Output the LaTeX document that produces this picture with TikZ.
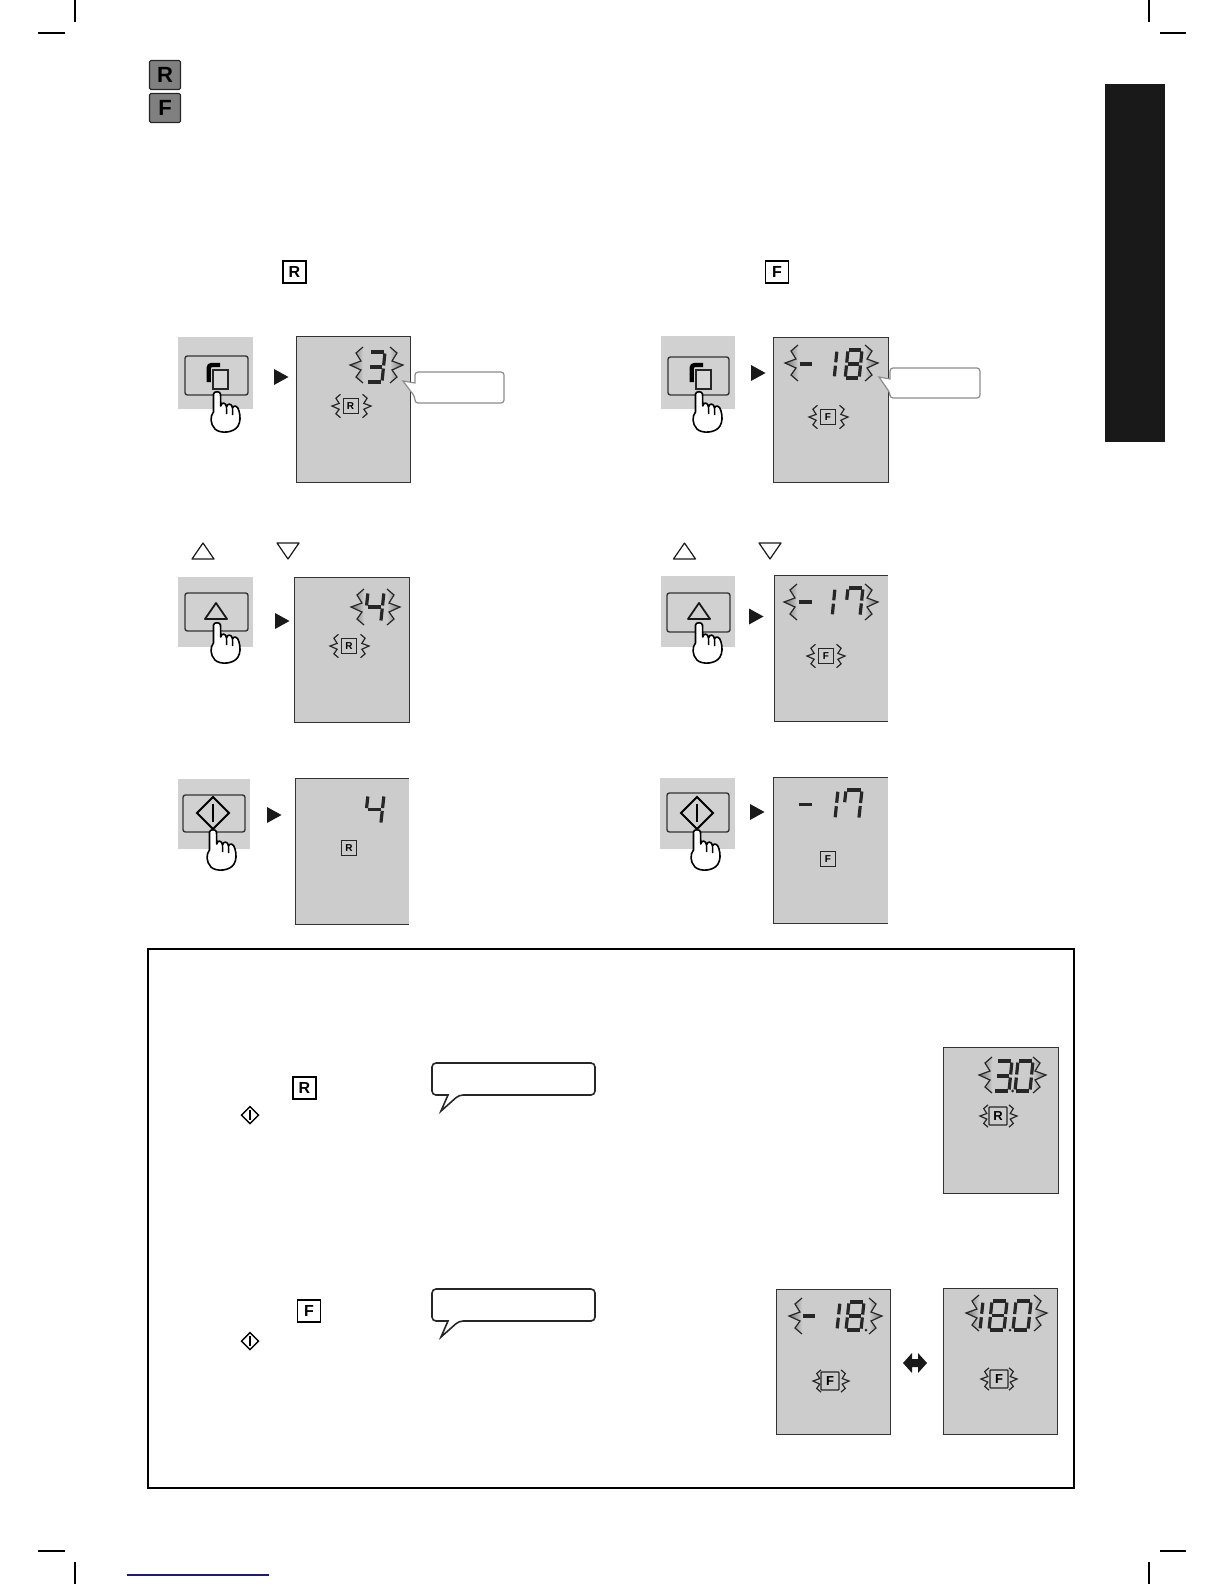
\documentclass[tikz,border=0pt]{standalone}
\usepackage{fontspec}
\setmainfont{Liberation Sans}
\usepackage{xcolor}
\usetikzlibrary{calc}

\definecolor{lcdgray}{gray}{0.80}
\definecolor{padgray}{gray}{0.82}
\definecolor{keygray}{gray}{0.50}
\definecolor{linkblue}{rgb}{0.10,0.10,0.50}

\tikzset{
	keytop/.style={draw=black!85,fill=keygray,line width=.6pt,rounded corners=.7pt,minimum width=15.5pt,minimum height=14.5pt,inner sep=0pt,font=\bfseries\fontsize{11}{11}\selectfont},
	keymid/.style={draw=black,line width=.75pt,minimum width=11.5pt,minimum height=11pt,inner sep=0pt,font=\bfseries\fontsize{8}{8}\selectfont},
	keylcd/.style={draw=black!85,line width=.5pt,minimum width=7.5pt,minimum height=7.5pt,inner sep=0pt,font=\bfseries\fontsize{5}{5}\selectfont},
	keylcdbig/.style={draw=black!85,line width=.6pt,rounded corners=.4pt,minimum width=9pt,minimum height=9pt,inner sep=0pt,font=\bfseries\fontsize{6.5}{6.5}\selectfont},
	segline/.style={line width=1.6pt,black!85},
	flashline/.style={draw=black!85,line width=.6pt,line join=miter,miter limit=20},
	screenline/.style={draw=black!80,line width=.5pt},
	buttonline/.style={draw=black!80,line width=.7pt,rounded corners=1.2pt},
	cropline/.style={draw=black,line width=.6pt},
}

\newcommand{\lcdscreen}[4]{
	\fill[lcdgray] (#1,#2) rectangle (#3,#4);
	\draw[screenline] (#1,#2) rectangle (#3,#4);
}
\newcommand{\lcdopen}[4]{
	\fill[lcdgray] (#1,#2) rectangle (#3,#4);
	\draw[screenline] (#3,#2) -- (#1,#2) -- (#1,#4) -- (#3,#4);
}
\newcommand{\segdigit}[5]{
	\begin{scope}[shift={(#1,#2)},xscale=#3,yscale=#4,xslant=.2]
		\foreach \xa/\ya/\xb/\yb in #5 {
			\draw[segline] (\xa,\ya) -- (\xb,\yb);
		}
	\end{scope}
}
\newcommand{\flashmark}[5]{
	\foreach \sx/\ca/\cb in {-1/#5/lcdgray,1/lcdgray/#5} {
		\draw[flashline,left color=\ca,right color=\cb,shift={({#1+\sx*#3},#2)},xscale=\sx*#4,yscale=#4]
			(-13,-18) -- (-6,-12) -- (-11,-4) -- (0,0) -- (-11,5) -- (-6,12) -- (-13,18);
	}
}
\newcommand{\handmark}[2]{
	\begin{scope}[shift={(#1,#2)}]
		\draw[black,line width=.8pt,fill=white,line join=round]
			(-3.5,2) .. controls (-3.5,-1) and (3.5,-1) .. (3.5,2) -- (3.8,14)
			.. controls (4,10) and (9,10) .. (9.5,15)
			.. controls (10,11) and (15,11) .. (15.5,16)
			.. controls (16,13) and (21,13) .. (22,19)
			.. controls (23.5,24) and (23.5,30) .. (21,34)
			.. controls (17,41) and (3,42) .. (-2,37)
			.. controls (-7,32) and (-7,24) .. (-3.5,20) -- cycle;
		\draw[black,line width=.7pt] (9.5,15) -- (9.7,22);
		\draw[black,line width=.7pt] (15.5,16) -- (15.7,23);
	\end{scope}
}
\newcommand{\playmark}[2]{
	\fill[black!90] (#1,#2-8) -- (#1+14.5,#2) -- (#1,#2+8) -- cycle;
}
\newcommand{\padbutton}[8]{
	\fill[padgray] (#1,#2) rectangle (#3,#4);
	\draw[buttonline] (#5,#6) rectangle (#7,#8);
}
\newcommand{\copyglyph}[2]{
	\draw[black,line width=2.2pt,rounded corners=1.5pt] (#1+3.7,#2+19) -- (#1+3.7,#2+2) -- (#1+15,#2+2);
	\draw[black!85,line width=.8pt,fill=padgray!85!white] (#1+8,#2+7) rectangle (#1+23,#2+26);
}
\newcommand{\upglyph}[4]{
	\draw[black!90,line width=#4,line join=round] (#1-#3,#2+8) -- (#1,#2-8) -- (#1+#3,#2+8) -- cycle;
}
\newcommand{\downglyph}[4]{
	\draw[black!90,line width=#4,line join=round] (#1-#3,#2-8) -- (#1,#2+8) -- (#1+#3,#2-8) -- cycle;
}
\newcommand{\startglyph}[4]{
	\draw[black,line width=#4,line join=miter] (#1-#3,#2) -- (#1,#2-#3) -- (#1+#3,#2) -- (#1,#2+#3) -- cycle;
	\draw[black,line width=#4] (#1,#2-.55*#3) -- (#1,#2+.55*#3);
}

\def\digone{0/.06/0/.44,0/.56/0/.94}
\def\digthree{.08/0/.92/0,1/.05/1/.45,1/.55/1/.95,.08/1/.92/1,.1/.5/.9/.5}
\def\digfour{0/.05/0/.45,.08/.5/.92/.5,1/.05/1/.45,1/.55/1/.95}
\def\digseven{.08/0/.92/0,0/.05/0/.42,1/.05/1/.45,1/.55/1/.95}
\def\digeight{.08/0/.92/0,0/.05/0/.45,1/.05/1/.45,.08/.5/.92/.5,0/.55/0/.95,1/.55/1/.95,.08/1/.92/1}
\def\digzero{.08/0/.92/0,0/.05/0/.45,1/.05/1/.45,0/.55/0/.95,1/.55/1/.95,.08/1/.92/1}
\def\digminus{0/.5/1/.5}

\begin{document}
\begin{tikzpicture}[x=.5pt,y=-.5pt]
	\useasboundingbox (0,0) rectangle (1224,1584);

	\draw[cropline] (75,0) -- (75,22);
	\draw[cropline] (38,33) -- (65,33);
	\draw[cropline] (1149,0) -- (1149,22);
	\draw[cropline] (1160,33) -- (1186,33);
	\draw[cropline] (38,1551) -- (65,1551);
	\draw[cropline] (75,1562) -- (75,1584);
	\draw[cropline] (1160,1551) -- (1186,1551);
	\draw[cropline] (1149,1562) -- (1149,1584);
	\draw[draw=linkblue,line width=.6pt] (127,1575) -- (269,1575);

	\fill[black!90] (1105,84) rectangle (1165,442);

	\node (topR) at (165,75) [keytop] {R};
	\node (topF) at (165,108) [keytop] {F};
	\node (headR) at (294.5,272) [keymid] {R};
	\node (headF) at (777,272) [keymid] {F};

	\padbutton{178}{337}{253}{409}{185}{356}{248}{395}
	\copyglyph{205}{363}
	\handmark{217}{392}
	\playmark{274}{377}
	\lcdscreen{296}{336}{410}{482}
	\flashmark{376.5}{365}{26.5}{1}{black!55}
	\segdigit{370}{352}{15}{30}{\digthree}
	\flashmark{351.5}{406}{19.5}{.65}{lcdgray}
	\node (lcdRa) at (350.5,406) [keylcd] {R};
	\draw[draw=black!45,fill=white,line width=.6pt,rounded corners=1.5pt] (460,372) -- (504,372) -- (504,403) -- (415,403) -- (415,397) [sharp corners] -- (403,381) -- (415,383) [rounded corners=1.5pt] -- (415,372) -- cycle;

	\padbutton{661}{336}{735}{409}{668}{357}{729}{395}
	\copyglyph{688}{363}
	\handmark{699}{392}
	\playmark{751}{373}
	\lcdscreen{773}{337}{888}{482}
	\flashmark{831.5}{363}{46.5}{1}{black!55}
	\segdigit{801}{350}{12}{28}{\digminus}
	\segdigit{837}{350}{14}{28}{\digone}
	\segdigit{848}{350}{14}{28}{\digeight}
	\flashmark{828.5}{417}{19.5}{.65}{lcdgray}
	\node (lcdFa) at (828,417) [keylcd] {F};
	\draw[draw=black!45,fill=white,line width=.6pt,rounded corners=1.5pt] (935,368) -- (980,368) -- (980,398) -- (890,398) -- (890,393) [sharp corners] -- (879,377) -- (890,379) [rounded corners=1.5pt] -- (890,368) -- cycle;

	\upglyph{203}{551}{11}{.6pt}
	\downglyph{288}{551}{11}{.6pt}
	\upglyph{684.5}{551}{11}{.6pt}
	\downglyph{770}{551}{11}{.6pt}

	\padbutton{178}{577}{253}{647}{185}{593}{248}{631}
	\upglyph{216}{611}{11}{.9pt}
	\handmark{217}{623}
	\playmark{275}{621}
	\lcdscreen{294}{577}{409}{722}
	\flashmark{375.5}{607}{24.5}{1}{black!55}
	\segdigit{368}{592}{16}{30}{\digfour}
	\flashmark{349.5}{646}{19.5}{.65}{lcdgray}
	\node (lcdRb) at (349,646) [keylcd] {R};

	\padbutton{661}{576}{735}{647}{667}{593}{730}{632}
	\upglyph{699}{611}{11}{.9pt}
	\handmark{699}{623}
	\playmark{749}{616.5}
	\lcdopen{774}{575}{888}{721}
	\flashmark{831}{602}{47}{1}{black!55}
	\segdigit{800}{588}{13}{28}{\digminus}
	\segdigit{835}{588}{14}{28}{\digone}
	\segdigit{848}{588}{15}{28}{\digseven}
	\flashmark{826}{656}{19}{.65}{lcdgray}
	\node (lcdFb) at (826,656) [keylcd] {F};

	\padbutton{178}{779}{250}{849}{183}{795}{245}{832}
	\startglyph{213}{813}{16}{1pt}
	\handmark{213}{830}
	\playmark{267}{815}
	\lcdopen{295}{778}{409}{924}
	\segdigit{368}{795}{16}{29}{\digfour}
	\node (lcdRc) at (349,848) [keylcd] {R};

	\padbutton{660}{778}{735}{849}{667}{793}{729}{832}
	\startglyph{697}{813}{16}{1pt}
	\handmark{697}{830}
	\playmark{750}{812}
	\lcdopen{773}{777}{888}{923}
	\segdigit{800}{790}{13}{29}{\digminus}
	\segdigit{838}{790}{15}{29}{\digone}
	\segdigit{846}{790}{16}{29}{\digseven}
	\node (lcdFc) at (828,859) [keylcd] {F};

	\draw[black,line width=.7pt] (148,949) rectangle (1074,1488);

	\node (noteR) at (304.5,1088) [keymid] {R};
	\startglyph{250}{1115}{8.5}{.7pt}
	\draw[black!85,line width=.8pt,fill=white,rounded corners=2pt] (500,1063) -- (595,1063) -- (595,1095) -- (459,1095) [sharp corners] -- (441,1111) -- (448,1095) [rounded corners=2pt] -- (432,1095) -- (432,1063) -- cycle;
	\lcdscreen{943}{1047}{1058}{1193}
	\flashmark{1012.5}{1075}{33.5}{1}{black!55}
	\segdigit{997}{1061}{15}{30}{\digthree}
	\fill[black!85] (1012.5,1091) circle (1.5);
	\segdigit{1018}{1061}{15}{30}{\digzero}
	\flashmark{998.5}{1116}{18.5}{.62}{lcdgray}
	\node (lcdRd) at (998,1116) [keylcdbig] {R};

	\node (noteF) at (309,1311) [keymid] {F};
	\startglyph{250}{1341}{8.5}{.7pt}
	\draw[black!85,line width=.8pt,fill=white,rounded corners=2pt] (500,1289) -- (595,1289) -- (595,1321) -- (459,1321) [sharp corners] -- (441,1337) -- (448,1321) [rounded corners=2pt] -- (432,1321) -- (432,1289) -- cycle;

	\lcdscreen{776}{1289}{890}{1434}
	\flashmark{835.5}{1316}{46.5}{1}{black!55}
	\segdigit{804}{1302}{12}{28}{\digminus}
	\segdigit{840}{1302}{15}{28}{\digone}
	\segdigit{849}{1302}{15}{28}{\digeight}
	\fill[black!85] (866,1330) circle (1.5);
	\flashmark{831}{1381}{18}{.62}{lcdgray}
	\node (lcdFd) at (830,1381) [keylcdbig] {F};

	\fill[black!90] (903,1363) -- (912,1353) -- (912,1359) -- (918,1359) -- (918,1353) -- (927,1363) -- (918,1373) -- (918,1367) -- (912,1367) -- (912,1373) -- cycle;

	\lcdscreen{943}{1288}{1057}{1434}
	\flashmark{1006.5}{1313}{40.5}{1}{black!55}
	\segdigit{983}{1301}{15}{29}{\digone}
	\segdigit{992}{1301}{15}{29}{\digeight}
	\fill[black!85] (1010,1330) circle (1.5);
	\segdigit{1016}{1301}{15}{29}{\digzero}
	\flashmark{999}{1379}{18}{.62}{lcdgray}
	\node (lcdFe) at (999,1379) [keylcdbig] {F};
\end{tikzpicture}
\end{document}
